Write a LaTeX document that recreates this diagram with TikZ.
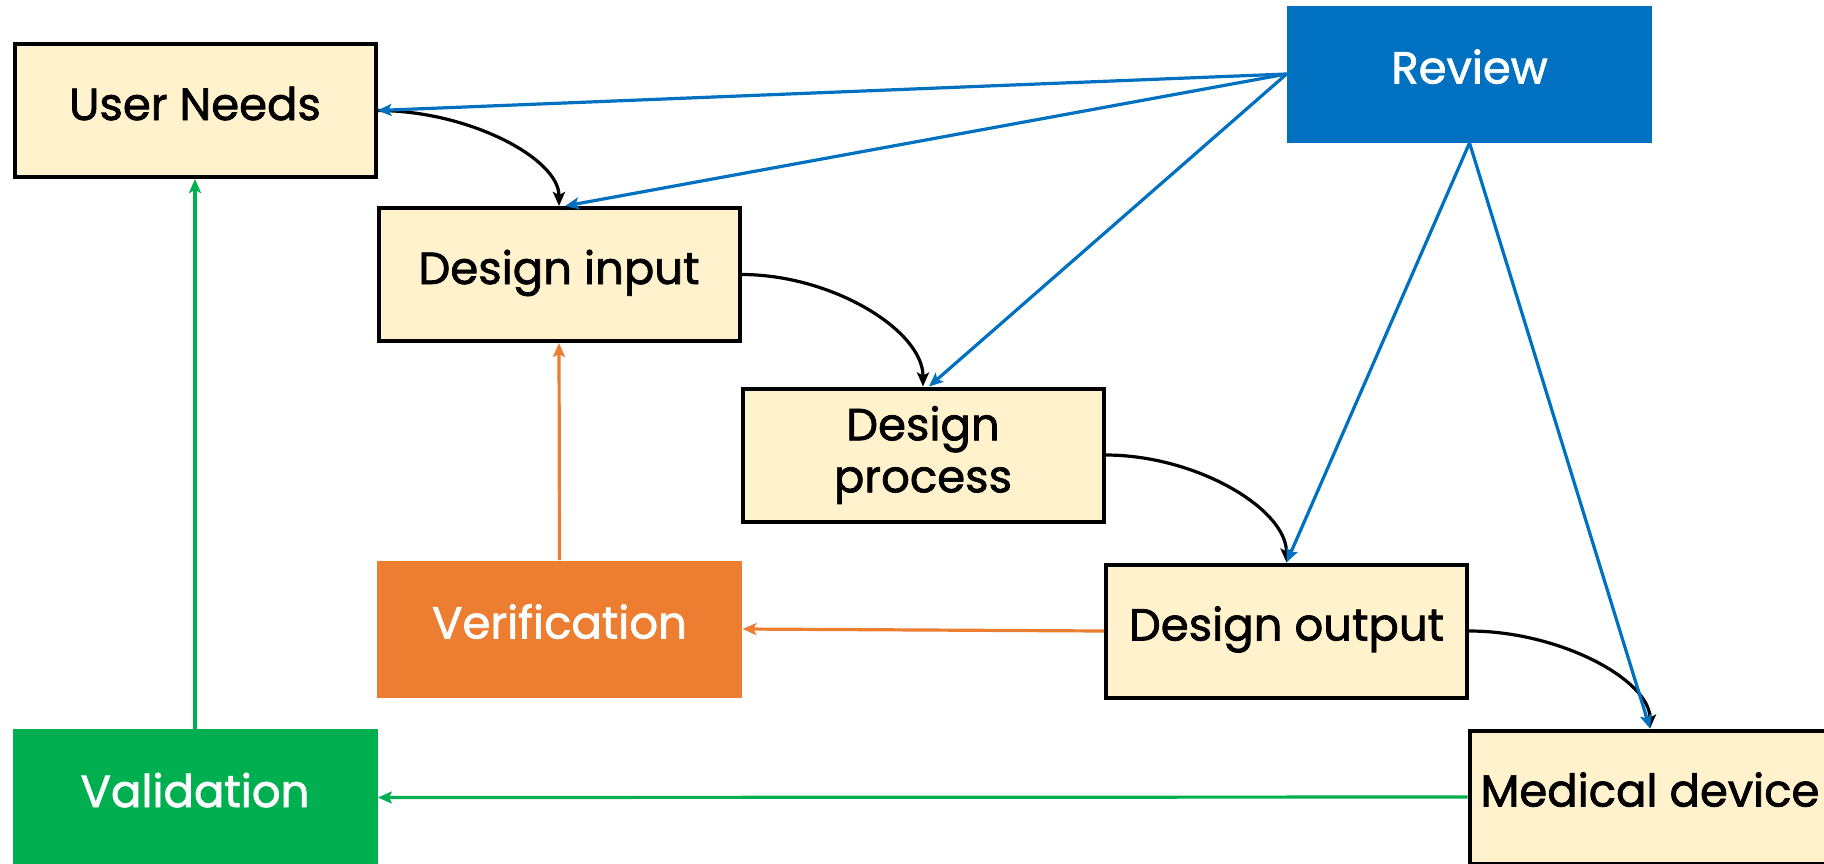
\documentclass[tikz,border=0pt]{standalone}
\usepackage{fontspec}
\setmainfont{Poppins}[FakeBold=1.6]
\usetikzlibrary{arrows.meta,calc}
\definecolor{cream}{HTML}{FFF2CC}
\definecolor{rvblue}{HTML}{0070C0}
\definecolor{vorange}{HTML}{ED7D31}
\definecolor{vgreen}{HTML}{00B050}
\begin{document}
\begin{tikzpicture}[x=0.5pt,y=-0.5pt,
  base/.style={rectangle, minimum width=182.5pt, minimum height=68.5pt, inner sep=0pt,
    font=\fontsize{22.5}{26}\selectfont, text height=1.05em, text depth=0.1em},
  cbox/.style={base, fill=cream, draw=black, line width=2pt, minimum width=180.5pt, minimum height=66.5pt},
  fbox/.style={base, text=white},
  tip/.style={-{Stealth[length=7pt,width=6pt,inset=1.5pt]}},
  blk/.style={tip, line width=1.6pt, draw=black},
  barr/.style={tip, line width=1.6pt, draw=rvblue},
  oarr/.style={tip, line width=1.6pt, draw=vorange},
  garr/.style={tip, line width=1.6pt, draw=vgreen}
]
\useasboundingbox (0,0) rectangle (1824,863);
\clip (0,0) rectangle (1824,863);
\fill[white] (0,0) rectangle (1824,863);

\node[cbox] (UN) at (195,110.5) {User Needs};
\node[cbox] (DI) at (559,274.5) {Design input};
\node[cbox, align=center, text height=, text depth=] (DP) at (923,455) {Design\\process};
\node[cbox] (DO) at (1286.5,631) {Design output};
\node[cbox] (MD) at (1650,797) {Medical device};
\node[fbox, fill=rvblue] (RV) at (1469.5,74) {Review};
\node[fbox, fill=vorange] (VE) at (559.5,629) {Verification};
\node[fbox, fill=vgreen] (VA) at (195,797.5) {Validation};

% black curved flow
\draw[blk] (UN.east) .. controls ($(UN.east)!0.5!(UN.east -| DI.north)$) and ($(DI.north)!0.5!(UN.east -| DI.north)$) .. (DI.north);
\draw[blk] (DI.east) .. controls ($(DI.east)!0.5!(DI.east -| DP.north)$) and ($(DP.north)!0.5!(DI.east -| DP.north)$) .. (DP.north);
\draw[blk] (DP.east) .. controls ($(DP.east)!0.5!(DP.east -| DO.north)$) and ($(DO.north)!0.5!(DP.east -| DO.north)$) .. (DO.north);
\draw[blk] (DO.east) .. controls ($(DO.east)!0.5!(DO.east -| MD.north)$) and ($(MD.north)!0.5!(DO.east -| MD.north)$) .. (MD.north);

% review
\draw[barr] (RV.west) -- (UN.east);
\draw[barr] (RV.west) -- ([xshift=3pt]DI.north);
\draw[barr] (RV.west) -- ([xshift=3pt]DP.north);
\draw[barr] (RV.south) -- (DO.north);
\draw[barr] (RV.south) -- (MD.north);

% verification
\draw[oarr] (DO.west) -- (VE.east);
\draw[oarr] (VE.north) -- (DI.south);

% validation
\draw[garr] (MD.west) -- (VA.east);
\draw[garr] (VA.north) -- (UN.south);
\end{tikzpicture}
\end{document}
